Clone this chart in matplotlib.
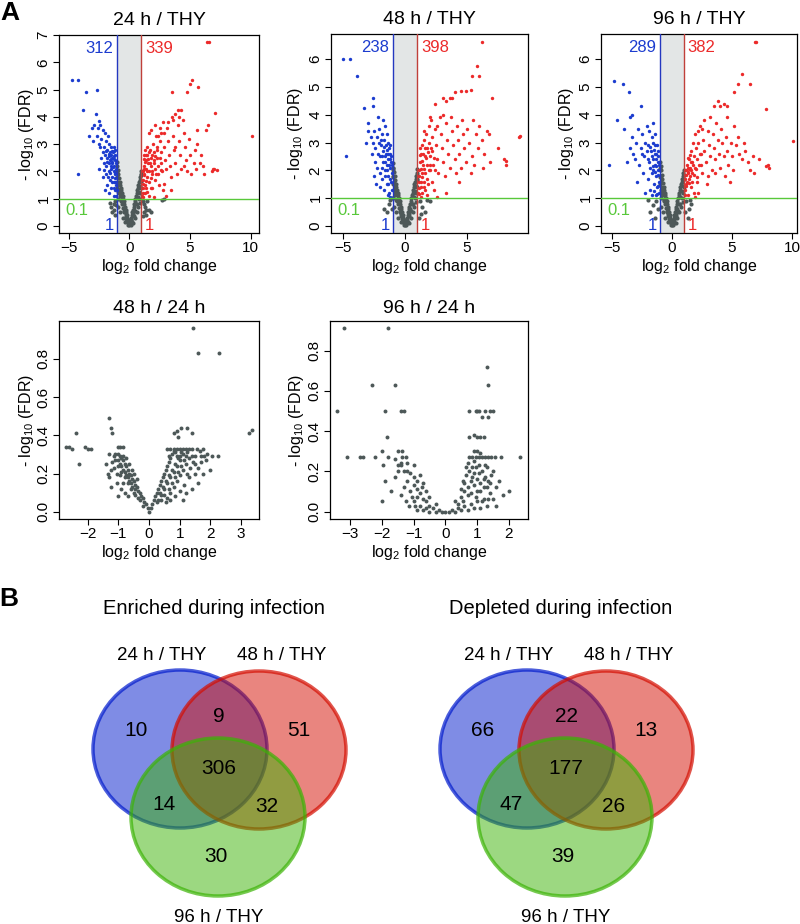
import numpy as np
import matplotlib
matplotlib.use("Agg")
import matplotlib.pyplot as plt
import matplotlib.transforms as mtransforms
from matplotlib.patches import Ellipse

plt.rcParams['font.family'] = ['Liberation Sans', 'DejaVu Sans']
plt.rcParams['mathtext.fontset'] = 'custom'
plt.rcParams['mathtext.rm'] = 'Liberation Sans'
plt.rcParams['mathtext.it'] = 'Liberation Sans:italic'
plt.rcParams['mathtext.bf'] = 'Liberation Sans:bold'

# ---------------- data ----------------
top_titles = ['24 h / THY', '48 h / THY', '96 h / THY']
bottom_titles = ['48 h / 24 h', '96 h / 24 h']
n_down = [312, 238, 289]
n_up = [339, 398, 382]
fc_cut = 1
fdr_cut = 0.1

# (log2 fold change, -log10 FDR)
pts_24 = [
    # grey V
    (0.0, 0.02), (-0.05, 0.1), (0.05, 0.08), (-0.1, 0.2), (-0.15, 0.3), (-0.2, 0.4), (-0.25, 0.5),
    (-0.3, 0.6), (-0.35, 0.7), (-0.4, 0.8), (-0.45, 0.9), (-0.5, 1.0), (-0.55, 1.1), (-0.6, 1.2),
    (-0.65, 1.3), (-0.7, 1.4), (-0.75, 1.5), (-0.8, 1.6), (-0.85, 1.75), (-0.9, 1.9), (-0.95, 2.05),
    (-1.0, 2.2), (-1.0, 2.35), (-0.2, 0.2), (-0.3, 0.35), (-0.4, 0.5), (-0.5, 0.65), (-0.6, 0.8),
    (-0.7, 0.95), (-0.8, 1.1), (-0.9, 1.25), (-1.0, 1.4), (-1.0, 1.6), (-1.0, 1.8), (-1.0, 2.0),
    (-0.1, 0.05), (-0.25, 0.25), (-0.45, 0.55), (-0.65, 0.9), (-0.85, 1.2), (-0.95, 1.5),
    (-0.95, 1.0), (-0.9, 0.7), (-0.75, 0.5), (-0.55, 0.3), (-0.35, 0.15),
    (-0.15, 0.15), (-0.3, 0.45), (-0.4, 0.65), (-0.5, 0.85), (-0.6, 1.0), (-0.7, 1.15),
    (-0.8, 1.35), (-0.9, 1.55), (-0.95, 1.75), (-1.0, 1.95), (0.0, 0.1), (0.1, 0.12), (-0.05, 0.2),
    (-1.2, 0.9), (-1.3, 0.8), (-1.5, 0.7), (-1.4, 0.5), (-1.25, 0.6), (-1.15, 0.4), (-1.6, 0.85),
    (-1.1, 0.75), (0.05, 0.1), (0.1, 0.2), (0.15, 0.3), (0.2, 0.4), (0.25, 0.5), (0.3, 0.6),
    (0.35, 0.7), (0.4, 0.8), (0.45, 0.9), (0.5, 1.0), (0.55, 1.1), (0.6, 1.2), (0.65, 1.3),
    (0.7, 1.4), (0.75, 1.5), (0.8, 1.6), (0.85, 1.7), (0.9, 1.8), (0.95, 1.9), (1.0, 2.0),
    (0.2, 0.15), (0.35, 0.35), (0.5, 0.55), (0.65, 0.8), (0.8, 1.0), (0.9, 1.2), (1.0, 1.4),
    (1.0, 1.65), (0.6, 0.5), (0.45, 0.3), (0.3, 0.1), (0.75, 0.7), (0.9, 0.85), (0.1, 0.05),
    (0.15, 0.2), (0.3, 0.45), (0.4, 0.6), (0.55, 0.8), (0.7, 1.05), (0.8, 1.25), (0.9, 1.45),
    (0.95, 1.65), (1.0, 1.85),
    (1.1, 0.9), (1.2, 0.8), (1.3, 0.7), (1.4, 0.6), (1.2, 0.5), (1.5, 0.9), (1.6, 0.6), (1.8, 0.5),
    (1.1, 0.35), (1.35, 0.4), (2.7, 0.95), (2.9, 1.0),
    # depleted
    (-4.7, 5.35), (-4.2, 5.35), (-3.6, 4.9), (-3.8, 4.25), (-4.2, 1.9), (-2.7, 5.0), (-2.75, 4.1),
    (-3.1, 3.6), (-2.5, 3.85), (-3.3, 3.3), (-2.9, 3.7), (-2.6, 3.6), (-2.4, 3.7), (-2.2, 3.5),
    (-2.0, 3.4), (-2.3, 3.2), (-2.7, 3.3), (-1.9, 3.1), (-1.7, 3.0), (-2.1, 2.9), (-1.8, 2.8),
    (-1.6, 2.7), (-1.5, 2.6), (-1.4, 2.5), (-1.3, 2.45), (-1.2, 2.4), (-1.25, 2.2), (-1.4, 2.3),
    (-1.6, 2.4), (-1.8, 2.5), (-2.0, 2.6), (-2.2, 2.7), (-2.4, 2.9), (-1.5, 2.1), (-1.3, 2.0),
    (-1.7, 2.0), (-1.9, 2.2), (-2.1, 2.3), (-1.4, 1.8), (-1.6, 1.7), (-1.2, 1.9), (-1.3, 1.6),
    (-1.5, 1.4), (-1.2, 1.3), (-1.1, 1.5), (-1.8, 1.5), (-2.0, 1.3), (-1.1, 1.1), (-1.3, 1.1),
    (-1.7, 1.2), (-2.2, 1.8), (-2.5, 2.1), (-2.3, 2.5), (-1.1, 2.1), (-1.15, 1.75), (-1.35, 2.7),
    (-1.55, 2.9), (-1.75, 3.3), (-2.5, 3.0), (-3.0, 3.1), (-1.45, 2.35), (-1.25, 2.55),
    (-1.65, 2.55), (-1.95, 2.75), (-1.05, 1.3),
    (-1.1, 2.3), (-1.15, 2.6), (-1.2, 2.8), (-1.3, 2.9), (-1.4, 2.75), (-1.5, 2.45), (-1.55, 2.2),
    (-1.65, 2.3), (-1.7, 2.65), (-1.85, 2.35), (-1.2, 1.6), (-1.3, 1.4), (-1.45, 1.6),
    (-1.6, 1.95), (-1.75, 1.8), (-1.9, 1.9), (-2.05, 2.05), (-1.15, 1.95), (-1.35, 2.15),
    (-1.25, 2.75),
    # enriched
    (6.4, 6.75), (6.55, 6.75), (10.1, 3.3), (7.1, 4.15), (5.2, 5.35), (5.0, 5.2), (5.7, 5.1),
    (4.8, 4.9), (3.5, 4.9), (4.3, 4.25), (4.0, 4.25), (3.8, 4.1), (6.5, 3.7), (6.3, 3.5),
    (5.6, 3.5), (6.9, 2.1), (7.0, 2.1), (6.8, 2.0), (7.2, 2.05), (5.8, 2.3), (5.5, 2.1),
    (1.05, 1.1), (1.1, 1.4), (1.15, 1.7), (1.1, 2.0), (1.2, 2.2), (1.3, 1.5), (1.25, 1.9),
    (1.35, 2.4), (1.4, 2.1), (1.45, 1.8), (1.5, 2.6), (1.55, 2.3), (1.6, 2.0), (1.65, 1.6),
    (1.7, 2.8), (1.75, 2.5), (1.8, 2.2), (1.85, 1.9), (1.9, 1.4), (1.95, 3.0), (2.0, 2.7),
    (2.05, 2.4), (2.1, 2.1), (2.15, 1.7), (2.2, 3.3), (2.25, 2.9), (2.3, 2.5), (2.35, 2.2),
    (2.4, 1.9), (2.45, 1.5), (2.5, 3.6), (2.55, 3.1), (2.6, 2.7), (2.65, 2.3), (2.7, 2.0),
    (2.75, 1.3), (2.8, 3.8), (2.85, 3.4), (2.9, 2.9), (2.95, 2.4), (3.0, 2.1), (3.0, 1.1),
    (3.1, 3.6), (3.2, 3.1), (3.3, 2.6), (3.35, 2.2), (3.4, 1.8), (3.5, 4.0), (3.6, 3.3),
    (3.7, 2.8), (3.8, 2.3), (3.9, 1.9), (4.0, 3.7), (4.1, 3.1), (4.2, 2.6), (4.3, 2.1),
    (4.4, 3.9), (4.5, 3.4), (4.6, 2.9), (4.7, 2.4), (4.8, 2.0), (4.9, 3.2), (5.0, 2.6),
    (5.1, 1.9), (5.3, 2.3), (5.4, 2.8), (5.6, 3.0), (5.9, 2.6), (6.1, 2.2), (6.2, 1.9),
    (3.4, 1.3), (2.9, 1.55), (1.3, 1.2), (1.6, 1.1), (2.0, 1.05), (3.8, 2.9), (4.5, 2.2),
    (3.2, 3.8), (3.6, 3.9), (4.1, 4.0), (2.6, 3.4), (1.9, 2.6), (1.45, 2.9), (1.2, 2.6),
    (1.3, 2.8), (1.6, 3.4), (1.8, 3.5), (2.1, 3.7), (2.4, 3.3),
    (1.1, 1.2), (1.15, 1.55), (1.2, 1.85), (1.25, 2.1), (1.3, 2.35), (1.35, 1.65), (1.4, 1.4),
    (1.5, 1.25), (1.5, 2.0), (1.55, 2.45), (1.6, 2.7), (1.7, 2.3), (1.75, 1.75), (1.8, 1.4),
    (1.9, 2.0), (2.0, 2.3), (2.1, 2.55), (2.2, 1.9), (2.3, 2.8), (2.5, 2.5), (2.6, 2.05),
    (1.4, 2.6), (1.2, 2.45), (1.15, 1.05),
]

pts_48 = [
    # grey V
    (0.0, 0.02), (-0.05, 0.1), (0.05, 0.08), (-0.1, 0.2), (-0.15, 0.3), (-0.2, 0.4), (-0.25, 0.5),
    (-0.3, 0.6), (-0.35, 0.7), (-0.4, 0.8), (-0.45, 0.9), (-0.5, 1.0), (-0.55, 1.1), (-0.6, 1.2),
    (-0.65, 1.3), (-0.7, 1.4), (-0.75, 1.5), (-0.8, 1.65), (-0.85, 1.8), (-0.9, 1.95), (-0.95, 2.1),
    (-1.0, 2.25), (-0.2, 0.2), (-0.3, 0.35), (-0.4, 0.5), (-0.5, 0.65), (-0.6, 0.8), (-0.7, 0.95),
    (-0.8, 1.1), (-0.9, 1.3), (-1.0, 1.5), (-1.0, 1.75), (-1.0, 2.0), (-0.1, 0.05), (-0.25, 0.25),
    (-0.45, 0.55), (-0.65, 0.9), (-0.85, 1.2), (-0.95, 1.0), (-0.9, 0.7), (-0.75, 0.5),
    (-0.55, 0.3), (-0.35, 0.15), (-0.15, 0.15), (-0.3, 0.45), (-0.4, 0.65), (-0.5, 0.85),
    (-0.6, 1.0), (-0.7, 1.2), (-0.8, 1.4), (-0.9, 1.6), (-0.95, 1.8), (-1.0, 2.1), (0.0, 0.1),
    (-1.3, 0.8), (-1.5, 0.5), (-1.7, 0.6), (-1.2, 0.95), (-1.1, 0.6),
    (0.05, 0.1), (0.1, 0.2), (0.15, 0.3), (0.2, 0.4), (0.25, 0.5), (0.3, 0.6), (0.35, 0.7),
    (0.4, 0.8), (0.45, 0.9), (0.5, 1.0), (0.55, 1.1), (0.6, 1.2), (0.65, 1.3), (0.7, 1.4),
    (0.75, 1.5), (0.8, 1.6), (0.85, 1.7), (0.9, 1.8), (0.95, 1.9), (1.0, 2.05), (0.2, 0.15),
    (0.35, 0.35), (0.5, 0.55), (0.65, 0.8), (0.8, 1.0), (0.9, 1.2), (1.0, 1.4), (1.0, 1.7),
    (0.6, 0.5), (0.45, 0.3), (0.3, 0.1), (0.75, 0.7), (0.9, 0.85), (0.1, 0.05), (0.15, 0.2),
    (0.3, 0.45), (0.4, 0.6), (0.55, 0.8), (0.7, 1.05), (0.8, 1.25), (0.9, 1.45), (0.95, 1.65),
    (1.0, 1.85), (1.2, 0.9), (1.4, 0.7), (1.6, 0.5), (1.3, 0.45), (1.8, 0.95), (2.0, 0.9),
    (1.1, 0.3),
    # depleted
    (-5.0, 6.0), (-4.5, 6.0), (-3.9, 5.4), (-3.3, 4.25), (-2.6, 4.6), (-2.6, 4.3), (-4.8, 2.5),
    (-3.0, 3.7), (-2.2, 3.9), (-1.05, 1.0), (-1.1, 1.3), (-1.15, 1.6), (-1.1, 1.9), (-1.2, 2.1),
    (-1.25, 2.4), (-1.3, 1.2), (-1.35, 1.8), (-1.4, 2.6), (-1.45, 2.2), (-1.5, 1.5), (-1.55, 2.9),
    (-1.6, 2.5), (-1.65, 2.0), (-1.7, 3.1), (-1.75, 2.7), (-1.8, 2.3), (-1.85, 1.7), (-1.9, 3.3),
    (-1.95, 2.9), (-2.0, 2.5), (-2.05, 1.9), (-2.1, 3.5), (-2.15, 3.0), (-2.2, 2.6), (-2.25, 2.1),
    (-2.3, 3.2), (-2.4, 2.8), (-2.5, 3.4), (-2.6, 3.0), (-2.7, 2.6), (-2.8, 3.2), (-3.0, 3.4),
    (-3.2, 3.0), (-2.35, 1.5), (-1.3, 2.8), (-1.5, 3.3), (-1.2, 2.6), (-1.6, 3.6), (-1.8, 3.8),
    (-2.0, 1.4), (-1.4, 1.1), (-1.7, 1.3), (-2.45, 2.3), (-1.15, 2.3), (-1.35, 3.0), (-1.9, 2.1),
    (-1.25, 1.05), (-2.55, 1.8), (-1.1, 2.2), (-1.15, 2.5), (-1.2, 1.7), (-1.25, 2.9),
    (-1.3, 2.2), (-1.4, 2.4), (-1.45, 2.75), (-1.5, 2.0), (-1.55, 2.6), (-1.65, 2.3),
    (-1.7, 2.85), (-1.85, 2.5), (-1.95, 3.1), (-1.4, 1.5), (-1.6, 1.8),
    # enriched
    (6.2, 6.6), (5.8, 5.75), (5.4, 5.4), (6.0, 5.4), (7.0, 4.6), (9.3, 3.25), (9.2, 3.2),
    (8.0, 2.4), (8.2, 2.35), (8.2, 2.2), (7.5, 2.8), (4.0, 4.8), (4.5, 4.85), (4.9, 4.85),
    (3.3, 4.5), (3.6, 4.6), (3.1, 4.6), (5.3, 4.9), (3.8, 4.6), (2.4, 4.4),
    (1.05, 1.2), (1.1, 1.6), (1.15, 2.0), (1.2, 2.3), (1.25, 1.4), (1.3, 2.6), (1.35, 1.9),
    (1.4, 2.9), (1.45, 2.2), (1.5, 1.6), (1.55, 3.1), (1.6, 2.5), (1.65, 1.9), (1.7, 3.3),
    (1.75, 2.8), (1.8, 2.2), (1.85, 1.5), (1.9, 3.6), (1.95, 3.0), (2.0, 2.5), (2.05, 2.0),
    (2.1, 3.8), (2.15, 3.2), (2.2, 2.7), (2.25, 2.2), (2.3, 1.3), (2.4, 3.5), (2.5, 2.9),
    (2.6, 2.4), (2.7, 1.9), (2.8, 3.9), (2.9, 3.3), (3.0, 2.8), (3.1, 2.3), (3.2, 1.8),
    (3.3, 3.7), (3.4, 3.1), (3.5, 2.6), (3.6, 2.1), (3.7, 3.9), (3.8, 3.4), (3.9, 2.9),
    (4.0, 2.4), (4.1, 1.9), (4.2, 3.6), (4.3, 3.1), (4.4, 2.6), (4.5, 2.1), (4.6, 3.8),
    (4.7, 3.3), (4.8, 2.8), (4.9, 2.3), (5.0, 3.5), (5.2, 3.0), (5.4, 2.5), (5.5, 3.8),
    (5.7, 3.3), (5.9, 2.8), (6.0, 3.6), (6.2, 3.1), (6.4, 2.6), (6.6, 3.4), (6.8, 3.3),
    (5.6, 2.2), (5.3, 1.9), (6.3, 2.1), (6.9, 2.3), (4.4, 1.6), (3.3, 1.2), (2.6, 1.05),
    (1.8, 1.1), (1.3, 1.05), (1.5, 3.4), (2.0, 3.9), (2.6, 3.6), (3.1, 4.0), (1.2, 2.8),
    (1.4, 1.2), (1.6, 1.3), (2.2, 1.6), (1.1, 1.35), (1.15, 1.8), (1.2, 2.55), (1.25, 2.05),
    (1.3, 1.6), (1.35, 2.35), (1.4, 1.75), (1.45, 2.6), (1.5, 2.05), (1.55, 1.4), (1.6, 2.8),
    (1.7, 2.45), (1.75, 1.7), (1.85, 2.65), (1.9, 2.0), (2.0, 2.2), (2.1, 2.8), (2.3, 2.45),
    (2.4, 2.0), (1.15, 1.15),
]

pts_96 = [
    # grey V
    (0.0, 0.02), (-0.05, 0.1), (0.05, 0.08), (-0.1, 0.2), (-0.15, 0.3), (-0.2, 0.4), (-0.25, 0.5),
    (-0.3, 0.6), (-0.35, 0.7), (-0.4, 0.8), (-0.45, 0.9), (-0.5, 1.0), (-0.55, 1.1), (-0.6, 1.2),
    (-0.65, 1.3), (-0.7, 1.4), (-0.75, 1.55), (-0.8, 1.7), (-0.85, 1.85), (-0.9, 2.0), (-0.95, 2.15),
    (-1.0, 2.3), (-0.2, 0.2), (-0.3, 0.35), (-0.4, 0.5), (-0.5, 0.65), (-0.6, 0.8), (-0.7, 0.95),
    (-0.8, 1.1), (-0.9, 1.3), (-1.0, 1.5), (-1.0, 1.75), (-1.0, 2.0), (-0.1, 0.05), (-0.25, 0.25),
    (-0.45, 0.55), (-0.65, 0.9), (-0.85, 1.2), (-0.95, 1.0), (-0.9, 0.7), (-0.75, 0.5),
    (-0.55, 0.3), (-0.35, 0.15), (-0.15, 0.15), (-0.3, 0.45), (-0.4, 0.65), (-0.5, 0.85),
    (-0.6, 1.0), (-0.7, 1.2), (-0.8, 1.4), (-0.9, 1.6), (-0.95, 1.8), (-1.0, 2.1), (0.0, 0.1),
    (-1.3, 0.9), (-1.6, 0.75), (-1.8, 0.5), (-1.4, 0.3), (-1.2, 0.6), (-2.0, 0.95),
    (0.05, 0.1), (0.1, 0.2), (0.15, 0.3), (0.2, 0.4), (0.25, 0.5), (0.3, 0.6), (0.35, 0.7),
    (0.4, 0.8), (0.45, 0.9), (0.5, 1.0), (0.55, 1.1), (0.6, 1.2), (0.65, 1.3), (0.7, 1.4),
    (0.75, 1.5), (0.8, 1.6), (0.85, 1.7), (0.9, 1.8), (0.95, 1.9), (1.0, 2.0), (0.2, 0.15),
    (0.35, 0.35), (0.5, 0.55), (0.65, 0.8), (0.8, 1.0), (0.9, 1.2), (1.0, 1.4), (1.0, 1.7),
    (0.6, 0.5), (0.45, 0.3), (0.3, 0.1), (0.75, 0.7), (0.9, 0.85), (0.1, 0.05), (0.15, 0.2),
    (0.3, 0.45), (0.4, 0.6), (0.55, 0.8), (0.7, 1.05), (0.8, 1.25), (0.9, 1.45), (0.95, 1.65),
    (1.0, 1.85), (1.2, 0.9), (1.4, 0.6), (1.6, 0.8), (1.3, 0.3), (1.1, 0.5), (1.5, 0.95),
    # depleted
    (-4.8, 5.2), (-4.1, 5.1), (-3.6, 4.8), (-4.6, 3.8), (-5.2, 2.2), (-3.3, 4.0), (-2.6, 4.3),
    (-3.5, 3.9), (-4.0, 3.5), (-3.7, 2.3), (-3.2, 2.6),
    (-1.05, 1.2), (-1.1, 1.6), (-1.15, 2.0), (-1.2, 2.3), (-1.25, 1.4), (-1.3, 2.6), (-1.35, 1.8),
    (-1.4, 2.9), (-1.45, 2.2), (-1.5, 1.5), (-1.55, 3.0), (-1.6, 2.4), (-1.65, 1.9), (-1.7, 3.2),
    (-1.75, 2.7), (-1.8, 2.1), (-1.85, 1.3), (-1.9, 3.4), (-1.95, 2.9), (-2.0, 2.4), (-2.1, 3.6),
    (-2.2, 3.0), (-2.3, 2.5), (-2.4, 1.9), (-2.5, 3.3), (-2.6, 2.8), (-2.7, 2.2), (-2.8, 3.5),
    (-2.9, 1.6), (-3.0, 3.0), (-3.1, 2.4), (-3.3, 3.2), (-3.5, 2.8), (-1.2, 2.7), (-1.4, 3.3),
    (-1.6, 3.7), (-1.3, 1.1), (-2.0, 1.7), (-2.2, 1.2), (-1.7, 1.1), (-1.15, 2.5), (-1.35, 2.4),
    (-1.55, 2.0), (-2.45, 2.6), (-1.1, 2.2), (-1.15, 1.45), (-1.2, 1.85), (-1.25, 2.9),
    (-1.3, 2.15), (-1.4, 2.6), (-1.45, 1.95), (-1.5, 2.75), (-1.6, 2.15), (-1.7, 2.5),
    (-1.8, 2.85), (-1.9, 2.3), (-2.1, 2.7), (-1.25, 1.15), (-1.5, 1.25),
    # enriched
    (6.9, 6.6), (7.0, 6.6), (5.8, 5.45), (6.5, 5.1), (5.5, 5.1), (5.2, 4.8), (7.8, 4.2),
    (10.1, 3.05), (8.0, 2.2), (8.1, 2.1), (7.8, 2.15), (3.8, 4.5), (4.3, 4.4), (3.5, 4.3),
    (4.0, 4.3), (4.6, 4.3),
    (1.05, 1.3), (1.1, 1.7), (1.15, 2.0), (1.2, 1.5), (1.25, 2.2), (1.3, 1.9), (1.35, 1.1),
    (1.4, 2.4), (1.45, 1.7), (1.5, 2.1), (1.55, 2.7), (1.6, 1.4), (1.65, 2.3), (1.7, 1.9),
    (1.75, 3.0), (1.8, 2.5), (1.85, 1.2), (1.9, 2.1), (1.95, 3.3), (2.0, 2.8), (2.05, 1.6),
    (2.1, 2.4), (2.15, 3.4), (2.2, 3.0), (2.3, 2.6), (2.4, 2.2), (2.5, 3.5), (2.6, 3.1),
    (2.7, 2.7), (2.8, 2.3), (2.9, 1.5), (3.0, 3.4), (3.1, 2.9), (3.2, 2.5), (3.3, 2.0),
    (3.4, 3.3), (3.5, 2.8), (3.6, 2.4), (3.7, 3.7), (3.8, 3.1), (3.9, 2.6), (4.0, 2.1),
    (4.1, 3.5), (4.2, 3.0), (4.3, 2.5), (4.4, 1.8), (4.5, 3.2), (4.6, 2.7), (4.7, 2.2),
    (4.8, 1.6), (4.9, 3.0), (5.0, 2.5), (5.1, 2.0), (5.3, 2.9), (5.5, 3.2), (5.6, 2.6),
    (5.8, 2.4), (6.0, 3.0), (6.1, 2.7), (6.3, 2.3), (6.5, 2.0), (6.7, 2.5), (7.2, 2.4),
    (6.8, 1.9), (3.6, 1.9), (2.5, 1.9), (1.9, 1.05), (2.2, 1.2), (3.0, 1.8), (2.3, 3.6),
    (2.7, 3.8), (3.2, 3.9), (4.6, 3.9), (5.2, 3.6), (1.1, 1.1), (1.15, 1.45), (1.2, 1.85),
    (1.25, 1.6), (1.3, 2.1), (1.35, 1.95), (1.4, 1.55), (1.45, 2.05), (1.5, 1.8), (1.55, 2.3),
    (1.6, 2.0), (1.7, 1.6), (1.75, 2.2), (1.85, 1.85), (2.0, 2.05), (2.1, 1.75), (2.25, 2.2),
    (2.4, 2.6), (1.3, 2.45), (1.5, 2.55),
]

pts_48_24 = [
    (0.0, 0.0), (-0.05, 0.02), (-0.1, 0.04), (-0.15, 0.05), (-0.2, 0.07), (-0.25, 0.08), (-0.3, 0.1),
    (-0.35, 0.11), (-0.4, 0.13), (-0.45, 0.14), (-0.5, 0.16), (-0.55, 0.17), (-0.6, 0.19),
    (-0.65, 0.2), (-0.7, 0.22), (-0.75, 0.24), (-0.8, 0.25), (-0.85, 0.27), (-0.9, 0.28),
    (-0.95, 0.29), (-1.0, 0.3), (-0.3, 0.06), (-0.45, 0.09), (-0.6, 0.12), (-0.7, 0.15),
    (-0.8, 0.18), (-0.9, 0.21), (-1.0, 0.24), (-1.1, 0.27), (-0.55, 0.22), (-0.65, 0.25),
    (-0.75, 0.28), (-0.85, 0.29), (-0.95, 0.19), (-1.05, 0.15), (-1.15, 0.29), (-1.2, 0.26),
    (-1.25, 0.22), (-0.9, 0.12), (-0.8, 0.1), (-1.0, 0.08), (-0.5, 0.2), (-0.4, 0.17),
    (-0.2, 0.03), (-0.35, 0.07), (-0.5, 0.1), (-0.6, 0.15), (-0.7, 0.18), (-0.8, 0.21),
    (-0.9, 0.24), (-1.0, 0.27), (-1.1, 0.3), (-0.45, 0.12), (-0.55, 0.13), (-0.65, 0.16),
    (-0.75, 0.19), (-0.85, 0.22), (-0.95, 0.25), (-1.05, 0.2), (-1.15, 0.23), (-0.7, 0.08),
    (-0.85, 0.15),
    (-1.3, 0.3), (-1.0, 0.34), (-0.95, 0.34), (-0.85, 0.34), (-1.35, 0.2), (-1.3, 0.18),
    (-1.4, 0.25), (-1.25, 0.13),
    (0.05, 0.02), (0.1, 0.04), (0.15, 0.06), (0.2, 0.08), (0.25, 0.1), (0.3, 0.12), (0.35, 0.14),
    (0.4, 0.16), (0.45, 0.18), (0.5, 0.2), (0.55, 0.22), (0.6, 0.24), (0.65, 0.26), (0.7, 0.28),
    (0.75, 0.3), (0.8, 0.32), (0.3, 0.06), (0.4, 0.09), (0.5, 0.12), (0.6, 0.15), (0.7, 0.18),
    (0.8, 0.21), (0.9, 0.24), (1.0, 0.27), (1.1, 0.3), (0.6, 0.07), (0.7, 0.1), (0.8, 0.13),
    (0.9, 0.16), (1.0, 0.19), (1.1, 0.22), (1.2, 0.25), (1.3, 0.28),
    (0.35, 0.1), (0.45, 0.13), (0.55, 0.16), (0.65, 0.19), (0.75, 0.22), (0.85, 0.25),
    (0.95, 0.28), (1.05, 0.31), (0.5, 0.09), (0.65, 0.12), (0.75, 0.15), (0.85, 0.18),
    (0.95, 0.21), (1.05, 0.24), (1.15, 0.27), (0.25, 0.05), (0.4, 0.06), (0.55, 0.05),
    (0.7, 0.06), (0.85, 0.08), (1.0, 0.11), (1.15, 0.14), (1.25, 0.2), (1.35, 0.23),
    (1.45, 0.26), (0.65, 0.29), (0.85, 0.31), (1.25, 0.31), (1.55, 0.33), (1.75, 0.33),
    (0.6, 0.33), (0.7, 0.33), (0.8, 0.33), (0.9, 0.33), (1.0, 0.33), (1.1, 0.33), (1.2, 0.33),
    (1.3, 0.33), (1.4, 0.33), (0.9, 0.29), (1.0, 0.29), (1.2, 0.29), (1.4, 0.29), (1.5, 0.29),
    (1.7, 0.29), (1.8, 0.29), (2.05, 0.29), (2.25, 0.29), (1.3, 0.18), (1.5, 0.2), (1.6, 0.23),
    (1.7, 0.26), (1.4, 0.12), (1.2, 0.1), (1.6, 0.15), (1.1, 0.06), (1.5, 0.25), (1.65, 0.32),
    (1.85, 0.27), (1.9, 0.3), (2.0, 0.22), (1.75, 0.2),
    (1.45, 0.96), (1.6, 0.83), (2.3, 0.83), (3.35, 0.43), (3.25, 0.41), (-1.3, 0.49),
    (-1.25, 0.44), (-1.2, 0.41), (-2.4, 0.41), (-2.6, 0.34), (-2.5, 0.33), (-2.7, 0.34),
    (-2.0, 0.33), (-2.1, 0.34), (-1.9, 0.33), (-2.3, 0.25), (0.8, 0.41), (0.9, 0.42),
    (1.05, 0.44), (1.25, 0.44), (1.4, 0.41), (0.95, 0.39),
]

pts_96_24 = [
    (-0.9, 0.01), (-0.7, 0.01), (-0.5, 0.0), (-0.3, 0.0), (-0.1, 0.0), (0.1, 0.0), (0.3, 0.0),
    (0.5, 0.01), (0.7, 0.01), (0.9, 0.02), (1.1, 0.02), (1.3, 0.03), (-0.8, 0.03), (-0.6, 0.02),
    (0.6, 0.03), (0.8, 0.04), (1.0, 0.05), (1.2, 0.06), (-1.0, 0.05), (-0.9, 0.07), (-0.8, 0.09),
    (-0.7, 0.06), (-0.5, 0.03), (0.4, 0.04), (0.5, 0.07), (0.6, 0.1), (0.7, 0.12), (0.8, 0.09),
    (0.9, 0.13), (1.0, 0.1), (1.1, 0.14), (1.2, 0.12), (1.4, 0.09), (1.5, 0.06), (-1.1, 0.1),
    (-1.0, 0.13), (-0.9, 0.15), (-0.8, 0.18), (-1.2, 0.15), (-1.1, 0.19), (-1.3, 0.12),
    (-1.4, 0.08), (-0.75, 0.12),
    (-0.6, 0.05), (-0.4, 0.02), (-0.2, 0.01), (0.0, 0.0), (0.2, 0.01), (0.4, 0.02), (0.3, 0.05),
    (-0.3, 0.04), (-0.5, 0.07), (-0.6, 0.1), (-0.7, 0.14), (-0.9, 0.11), (-1.0, 0.17),
    (-1.2, 0.2), (-1.05, 0.07), (-1.25, 0.05), (0.5, 0.11), (0.6, 0.14), (0.7, 0.08),
    (0.8, 0.15), (0.9, 0.19), (1.0, 0.16), (1.1, 0.1), (1.2, 0.16), (1.3, 0.12), (1.4, 0.14),
    (1.5, 0.2), (0.65, 0.22), (0.85, 0.22), (1.05, 0.23), (1.25, 0.23), (0.55, 0.05),
    (0.95, 0.07), (1.15, 0.05), (1.35, 0.06), (1.6, 0.03), (-0.95, 0.03), (-1.15, 0.03),
    (0.55, 0.15), (0.65, 0.18), (0.75, 0.2), (0.85, 0.17), (0.95, 0.22), (1.05, 0.19),
    (1.15, 0.2), (1.25, 0.17), (1.35, 0.15), (1.45, 0.18), (0.7, 0.24), (0.9, 0.25), (1.3, 0.22),
    (1.6, 0.12), (1.7, 0.15), (1.8, 0.08), (2.0, 0.1),
    (0.75, 0.27), (0.85, 0.27), (0.95, 0.27), (1.05, 0.27), (1.15, 0.27), (1.25, 0.27),
    (1.35, 0.27), (1.45, 0.27), (1.55, 0.27), (1.75, 0.27), (2.35, 0.27), (0.9, 0.3), (1.0, 0.3),
    (1.1, 0.29), (-1.3, 0.2), (-1.5, 0.2), (-1.6, 0.17), (-1.9, 0.15), (-1.7, 0.1), (-2.0, 0.05),
    (-1.2, 0.24), (-1.4, 0.24), (-1.0, 0.23), (-3.1, 0.27), (-2.7, 0.27), (-2.6, 0.27),
    (-2.2, 0.27), (-1.8, 0.27), (-1.6, 0.26), (-1.35, 0.27), (-1.25, 0.27), (-2.0, 0.3),
    (-1.5, 0.3), (-1.35, 0.3), (-1.95, 0.23), (-1.5, 0.23), (-1.4, 0.23),
    (-3.2, 0.91), (-1.8, 0.91), (-2.3, 0.63), (-1.6, 0.63), (1.3, 0.72), (1.35, 0.63),
    (-3.4, 0.5), (-1.9, 0.5), (-1.4, 0.5), (-1.3, 0.5), (0.75, 0.5), (0.95, 0.5), (1.0, 0.5),
    (1.05, 0.5), (1.25, 0.5), (1.4, 0.5), (1.5, 0.5), (1.15, 0.47), (1.35, 0.47), (-1.85, 0.37),
    (0.75, 0.37), (0.9, 0.38), (1.0, 0.37), (1.1, 0.37), (1.2, 0.37),
]

venn_enriched = [10, 9, 51, 14, 306, 32, 30]   # A, AB, B, AC, ABC, BC, C
venn_depleted = [66, 22, 13, 47, 177, 26, 39]
venn_sets = ['24 h / THY', '48 h / THY', '96 h / THY']

# ---------------- drawing ----------------
W, H = 800, 924
fig = plt.figure(figsize=(W / 100, H / 100), dpi=100)

c_grey = '#4d5858'
c_blue = '#1c3ccf'
c_red = '#ec2a2a'
c_green = '#58c83a'


def px_axes(l, t, r, b):
    return fig.add_axes([l / W, 1 - b / H, (r - l) / W, (b - t) / H])


def style(ax, xticks, yticks, yfmt, ylab_x):
    ax.set_xticks(xticks)
    ax.set_yticks(yticks)
    ax.set_yticklabels([yfmt.format(v) for v in yticks], rotation=90, va='center')
    ax.tick_params(direction='out', length=4, width=0.8, labelsize=11, pad=2)
    for s in ax.spines.values():
        s.set_linewidth(0.9)
    ax.set_xlabel('log$_2$ fold change', fontsize=11.5, labelpad=1)
    ax.set_ylabel('- log$_{10}$ (FDR)', fontsize=11.5)
    ax.yaxis.set_label_coords(ylab_x, 0.5)


top_boxes = [(59, 35, 259, 233), (331, 34, 528, 233), (601, 34, 797, 233)]
top_xlim = [(-5.8, 10.7), (-6.0, 9.95), (-5.9, 10.4)]
top_ylim = [(-0.26, 7.0), (-0.25, 6.9), (-0.25, 6.9)]
top_yticks = [range(0, 8), range(0, 7), range(0, 7)]
top_xticks = [[-5, 0, 5, 10], [-5, 0, 5], [-5, 0, 5, 10]]
top_ylab = [-0.115, -0.13, -0.13]
top_pts = [pts_24, pts_48, pts_96]

thr = -np.log10(fdr_cut)
for i in range(3):
    ax = px_axes(*top_boxes[i])
    p = np.array(top_pts[i])
    x, y = p[:, 0], p[:, 1]
    down = (x < -fc_cut) & (y > thr)
    up = (x > fc_cut) & (y > thr)
    grey = ~(down | up)
    ax.axvspan(-fc_cut, fc_cut, color='#e3e6e6', zorder=0, lw=0)
    ax.scatter(x[grey], y[grey], s=9, color=c_grey, lw=0, zorder=2)
    ax.scatter(x[down], y[down], s=6, color=c_blue, lw=0, zorder=2)
    ax.scatter(x[up], y[up], s=6, color=c_red, lw=0, zorder=2)
    ax.axvline(-fc_cut, color='#2438c0', lw=1, zorder=3)
    ax.axvline(fc_cut, color='#c0403a', lw=1, zorder=3)
    ax.axhline(thr, color=c_green, lw=1, zorder=3)
    ax.set_xlim(*top_xlim[i])
    ax.set_ylim(*top_ylim[i])
    style(ax, top_xticks[i], list(top_yticks[i]), '{:d}', top_ylab[i])
    ax.set_title(top_titles[i], fontsize=14, pad=7)
    tr = mtransforms.blended_transform_factory(ax.transData, ax.transAxes)
    ax.text(-fc_cut - 0.3, 0.93, str(n_down[i]), color=c_blue, fontsize=12,
            ha='right', va='center', transform=tr)
    ax.text(fc_cut + 0.3, 0.93, str(n_up[i]), color=c_red, fontsize=12,
            ha='left', va='center', transform=tr)
    ax.text(-fc_cut - 0.25, 0.04, '1', color=c_blue, fontsize=12,
            ha='right', va='center', transform=tr)
    ax.text(fc_cut + 0.3, 0.04, '1', color=c_red, fontsize=12,
            ha='left', va='center', transform=tr)
    ax.text(0.03, 0.115, str(fdr_cut), color=c_green, fontsize=12,
            ha='left', va='center', transform=ax.transAxes)

bot_boxes = [(59, 321, 259, 519), (330, 321, 528, 519)]
bot_xlim = [(-2.94, 3.59), (-3.63, 2.6)]
bot_ylim = [(-0.038, 0.998), (-0.037, 0.947)]
bot_xticks = [[-2, -1, 0, 1, 2, 3], [-3, -2, -1, 0, 1, 2]]
bot_ylab = [-0.115, -0.12]
bot_pts = [pts_48_24, pts_96_24]
for i in range(2):
    ax = px_axes(*bot_boxes[i])
    p = np.array(bot_pts[i])
    ax.scatter(p[:, 0], p[:, 1], s=8, color=c_grey, lw=0)
    ax.set_xlim(*bot_xlim[i])
    ax.set_ylim(*bot_ylim[i])
    style(ax, bot_xticks[i], [0.0, 0.2, 0.4, 0.6, 0.8], '{:.1f}', bot_ylab[i])
    ax.set_title(bottom_titles[i], fontsize=14, pad=6)

# overlay in pixel coordinates for panel letters and Venn diagrams
ov = fig.add_axes([0, 0, 1, 1])
ov.set_xlim(0, W)
ov.set_ylim(H, 0)
ov.axis('off')
ov.text(10, 13, 'A', fontsize=19, fontweight='bold', ha='center', va='center')
ov.text(9, 599, 'B', fontsize=19, fontweight='bold', ha='center', va='center')

circ_cols = [(0.0, 0.1, 0.8), (0.83, 0.05, 0.0), (0.23, 0.7, 0.02)]
circ_ctr = [(180, 749), (259, 750), (218, 817)]
region_pos = [(136, 731), (219, 717), (299, 730), (164, 804), (219, 769), (267, 807), (216, 857)]
set_pos = [(162, 656), (282, 656), (219, 917)]
venn_titles = ['Enriched during infection', 'Depleted during infection']
venn_counts = [venn_enriched, venn_depleted]
for k in range(2):
    dx = 347 * k
    for (cx, cy), col in zip(circ_ctr, circ_cols):
        ov.add_patch(Ellipse((cx + dx, cy), 174, 158, facecolor=col + (0.5,),
                             edgecolor=col + (0.7,), lw=2.5))
    for (tx, ty), n in zip(region_pos, venn_counts[k]):
        ov.text(tx + dx, ty, str(n), fontsize=15, ha='center', va='center')
    for (tx, ty), lab in zip(set_pos, venn_sets):
        ov.text(tx + dx, ty, lab, fontsize=13.5, ha='center', va='center')
    ov.text(214 + dx, 609, venn_titles[k], fontsize=14.5, ha='center', va='center')

fig.savefig('out.png', dpi=100)
